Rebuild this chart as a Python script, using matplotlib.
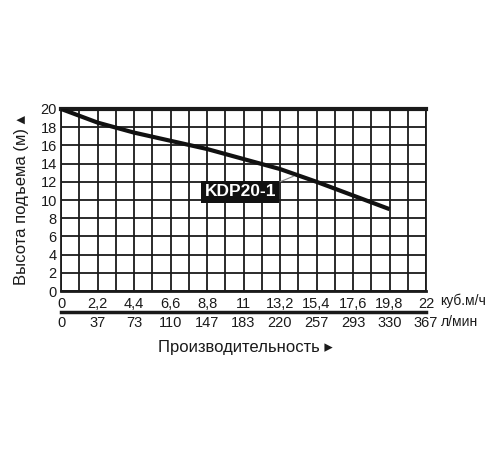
import matplotlib.pyplot as plt
import numpy as np

plt.rcParams['font.family'] = ['Liberation Sans', 'DejaVu Sans']

# curve
flow = [0, 2.2, 4.4, 6.6, 8.8, 11, 13.2, 15.4, 17.6, 19.8]
head = [20, 18.5, 17.4, 16.5, 15.6, 14.5, 13.4, 12.0, 10.5, 9.0]

x_ticks = [0, 2.2, 4.4, 6.6, 8.8, 11, 13.2, 15.4, 17.6, 19.8, 22]
x_labels = ['0', '2,2', '4,4', '6,6', '8,8', '11', '13,2', '15,4', '17,6', '19,8', '22']
lmin_labels = ['0', '37', '73', '110', '147', '183', '220', '257', '293', '330', '367']
y_ticks = list(range(0, 21, 2))

fig = plt.figure(figsize=(5, 4.5), dpi=100)
ax = fig.add_axes([0.122, 0.353, 0.73, 0.405])

ax.set_xlim(0, 22)
ax.set_ylim(0, 20)

# grid: vertical every 1.1, horizontal every 2
for x in np.arange(0, 22.01, 1.1):
    ax.axvline(x, color='#1a1a1a', lw=1.3, zorder=1)
for y in y_ticks:
    ax.axhline(y, color='#1a1a1a', lw=1.3, zorder=1)

ax.plot(flow, head, color='#111111', lw=3, solid_capstyle='butt', zorder=3)

# model label with leader line
ax.plot([13.2, 14.0], [12.0, 12.6], color='#888888', lw=0.8, zorder=3)
ax.text(10.8, 10.9, 'KDP20-1', color='white', fontsize=12.5, fontweight='bold',
        ha='center', va='center', zorder=4,
        bbox=dict(boxstyle='square,pad=0.2', fc='#111111', ec='none'))

for s in ax.spines.values():
    s.set_linewidth(1.3)
    s.set_color('#1a1a1a')
ax.spines['top'].set_linewidth(3)
ax.spines['bottom'].set_linewidth(2)

ax.set_yticks(y_ticks)
ax.set_yticklabels([str(v) for v in y_ticks], fontsize=10.5)
ax.set_xticks(x_ticks)
ax.set_xticklabels(x_labels, fontsize=10.5)
ax.tick_params(axis='both', length=0, pad=3, colors='#1a1a1a')
ax.tick_params(axis='x', pad=4)

# second scale in l/min
sec = ax.secondary_xaxis(-0.115)
sec.set_xticks(x_ticks)
sec.set_xticklabels(lmin_labels, fontsize=10.5)
sec.tick_params(length=0, pad=3, colors='#1a1a1a')
sec.spines['bottom'].set_linewidth(2.5)
sec.spines['bottom'].set_color('#1a1a1a')

ax.set_ylabel('Высота подъема (м) ▴', fontsize=12, color='#1a1a1a', labelpad=8)
fig.text(0.49, 0.228, 'Производительность ▸', fontsize=12, ha='center',
         va='center', color='#1a1a1a')
fig.text(0.88, 0.331, 'куб.м/ч', fontsize=10, ha='left', va='center', color='#1a1a1a')
fig.text(0.881, 0.284, 'л/мин', fontsize=10, ha='left', va='center', color='#1a1a1a')

fig.savefig('out.png', dpi=100, facecolor='white')
